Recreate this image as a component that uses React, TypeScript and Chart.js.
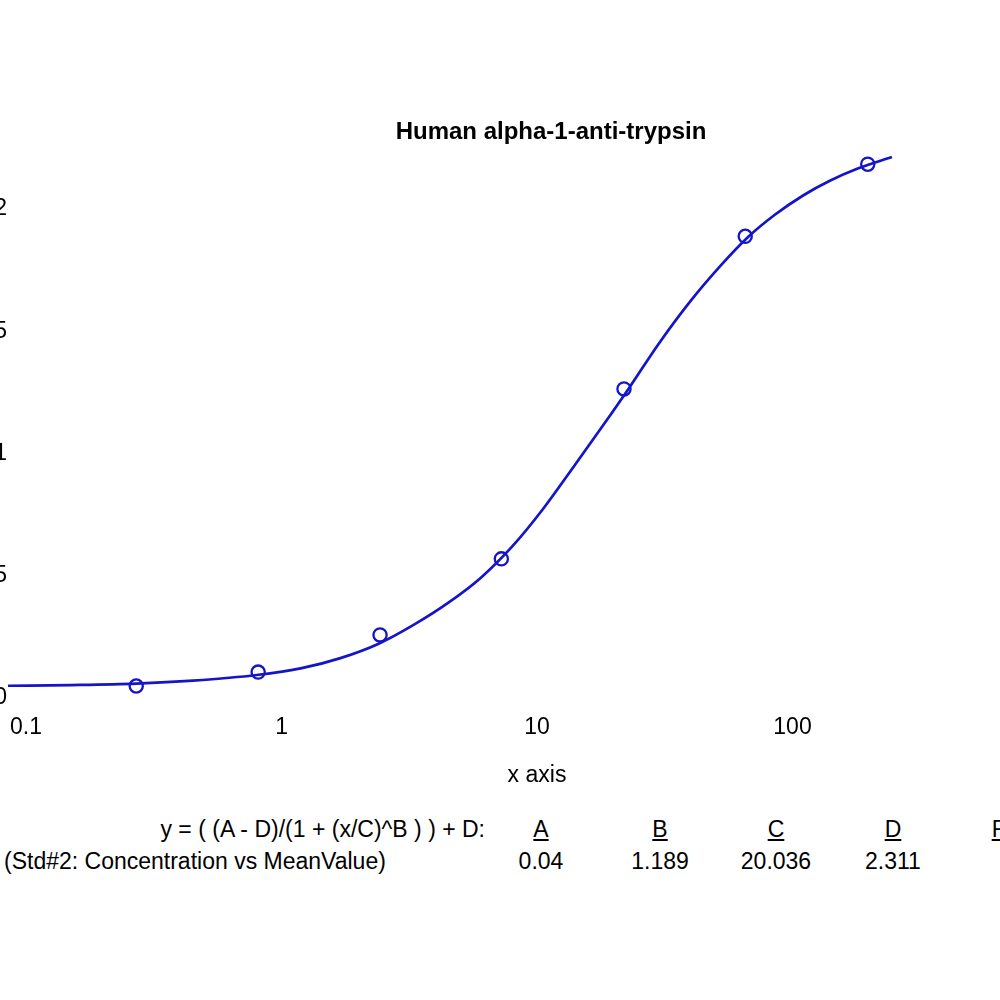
import { useEffect, useRef } from 'react';
import { Chart, registerables } from 'chart.js';

Chart.register(...registerables);

// standards (concentration vs mean value)
const stdConc = [0.27, 0.81, 2.43, 7.25, 21.9, 65.3, 197];
const stdMean = [0.049, 0.106, 0.258, 0.569, 1.264, 1.888, 2.183];

// fitted 4PL curve, sampled along the drawn line
const fitConc = [0.085, 0.15, 0.27, 0.45, 0.8, 1.2, 1.7, 2.4, 3.3, 4.5, 6, 8, 10.5, 14, 18, 23, 30, 40, 52, 67, 85, 110, 140, 180, 245];
const fitMean = [0.05, 0.053, 0.059, 0.071, 0.094, 0.122, 0.163, 0.222, 0.3, 0.39, 0.49, 0.62, 0.77, 0.95, 1.11, 1.27, 1.45, 1.625, 1.765, 1.885, 1.975, 2.055, 2.115, 2.165, 2.212];

const xTicks = [0.1, 1, 10, 100];
const yTicks = [0, 0.5, 1, 1.5, 2];

const paramNames = ['A', 'B', 'C', 'D', 'R'];
const paramValues = ['0.04', '1.189', '20.036', '2.311', ''];
const paramCenters = [541, 660, 776, 893, 1000];

const BLUE = '#1414c8';
const FONT = '"Liberation Sans", Arial, sans-serif';

function CurveChart() {
  const canvasRef = useRef<HTMLCanvasElement>(null);
  const chartRef = useRef<Chart | null>(null);

  useEffect(() => {
    if (!canvasRef.current) return;
    if (chartRef.current) chartRef.current.destroy();

    Chart.defaults.font.family = FONT;
    Chart.defaults.color = '#000';

    chartRef.current = new Chart(canvasRef.current, {
      type: 'line',
      data: {
        datasets: [
          {
            label: 'fit',
            data: fitConc.map((x, i) => ({ x, y: fitMean[i] })),
            borderColor: BLUE,
            borderWidth: 2.7,
            pointRadius: 0,
            cubicInterpolationMode: 'monotone',
            fill: false,
          },
          {
            label: 'Std#2',
            data: stdConc.map((x, i) => ({ x, y: stdMean[i] })),
            showLine: false,
            pointStyle: 'circle',
            pointRadius: 6.6,
            pointBorderWidth: 2.3,
            pointBorderColor: BLUE,
            pointBackgroundColor: 'rgba(0,0,0,0)',
            clip: false,
          },
        ],
      },
      options: {
        animation: false,
        responsive: true,
        maintainAspectRatio: false,
        layout: { padding: 0 },
        plugins: {
          legend: { display: false },
          tooltip: { enabled: false },
          title: {
            display: true,
            text: 'Human alpha-1-anti-trypsin',
            font: { size: 24, weight: 'bold' },
            color: '#000',
            padding: { top: 118, bottom: 1 },
          },
        },
        scales: {
          x: {
            type: 'logarithmic',
            position: 'bottom',
            min: 0.085,
            max: 1176,
            bounds: 'data',
            grid: { display: false, drawTicks: false },
            border: { display: false },
            ticks: {
              font: { size: 23 },
              padding: 16,
              autoSkip: false,
              maxRotation: 0,
              callback: (v) => String(v),
            },
            afterBuildTicks: (s) => {
              s.ticks = xTicks.map((value) => ({ value }));
            },
            afterFit: (s) => {
              s.height = 100;
            },
            title: {
              display: true,
              text: 'x axis',
              font: { size: 23 },
              padding: { top: 0, bottom: 9 },
            },
          },
          y: {
            type: 'linear',
            position: 'left',
            min: 0,
            max: 2.25,
            grid: { display: false, drawTicks: false },
            border: { display: false },
            ticks: { font: { size: 23 }, padding: 1, callback: (v) => String(v) },
            afterBuildTicks: (s) => {
              s.ticks = yTicks.map((value) => ({ value }));
            },
            afterFit: (s) => {
              s.width = 48;
            },
          },
          y2: {
            type: 'linear',
            position: 'right',
            grid: { display: false, drawTicks: false },
            border: { display: false },
            ticks: { display: false },
            afterFit: (s) => {
              s.width = 76;
            },
          },
        },
      },
    });

    return () => {
      chartRef.current?.destroy();
      chartRef.current = null;
    };
  }, []);

  return (
    <div style={{ position: 'absolute', left: -40, top: 0, width: 1182, height: 798 }}>
      <canvas ref={canvasRef} />
    </div>
  );
}

export default function App() {
  const text: React.CSSProperties = {
    position: 'absolute',
    fontFamily: FONT,
    fontSize: 23,
    lineHeight: '30px',
    whiteSpace: 'nowrap',
    color: '#000',
  };
  return (
    <div
      style={{
        position: 'fixed',
        left: 0,
        top: 0,
        width: 1000,
        height: 1000,
        overflow: 'hidden',
        background: '#fff',
      }}
    >
      <CurveChart />
      <div style={{ ...text, top: 814, right: 515 }}>y = ( (A - D)/(1 + (x/C)^B ) ) + D:</div>
      <div style={{ ...text, top: 846, left: 4 }}>(Std#2: Concentration vs MeanValue)</div>
      {paramNames.map((p, i) => (
        <div
          key={p}
          style={{ ...text, top: 814, left: paramCenters[i] - 50, width: 100, textAlign: 'center', textDecoration: 'underline' }}
        >
          {p}
        </div>
      ))}
      {paramValues.map((v, i) => (
        <div key={'v' + i} style={{ ...text, top: 846, left: paramCenters[i] - 50, width: 100, textAlign: 'center' }}>
          {v}
        </div>
      ))}
    </div>
  );
}
